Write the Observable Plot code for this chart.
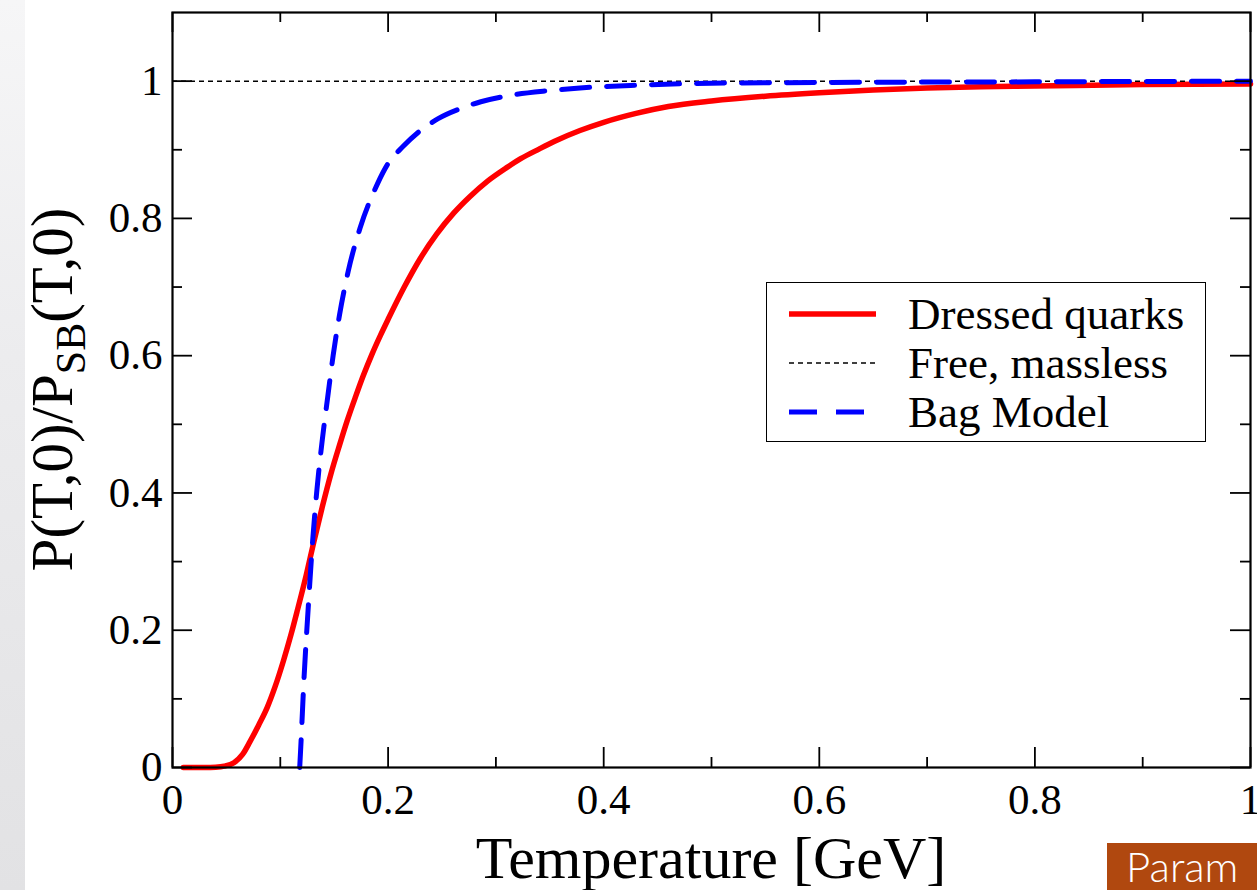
<!DOCTYPE html>
<html>
<head>
<meta charset="utf-8">
<script src="https://cdn.jsdelivr.net/npm/d3@7"></script>
<script src="https://cdn.jsdelivr.net/npm/@observablehq/plot@0.6"></script>
<style>
  html, body { margin: 0; padding: 0; background: #fff; overflow: hidden; }
  #wrap { position: relative; width: 1257px; height: 890px; overflow: hidden; background: #fff; }
  #strip { position: absolute; left: 0; top: 0; width: 25px; height: 890px;
           background: linear-gradient(to bottom, #f6f6f7 0%, #ececee 40%, #e2e2e4 100%); }
  #chart { position: absolute; left: 0; top: 0; }
  #legend { position: absolute; left: 766px; top: 282px; width: 440px; height: 160px;
            border: 1.5px solid #000; background: #fff; box-sizing: border-box;
            font-family: "Liberation Serif", "Times New Roman", serif; font-size: 45px; color: #000; }
  .item { position: absolute; left: 0; height: 50px; width: 100%; }
  .item svg { position: absolute; left: 22px; top: 0; }
  .item span { position: absolute; left: 141px; top: 0; line-height: 50px; white-space: nowrap; }
  #badge { position: absolute; left: 1107px; top: 843px; width: 150px; height: 47px;
           background: #b0480f; color: #fff; font-family: Lato, "Open Sans", sans-serif; font-weight: 300;
           font-size: 42px; line-height: 47px; padding-left: 19px; box-sizing: border-box; white-space: nowrap; overflow: hidden; }
</style>
</head>
<body>
<div id="wrap">
  <div id="strip"></div>
  <div id="chart"></div>
  <div id="legend"></div>
  <div id="badge">Param</div>
</div>
<script>
// ---- data ----
const tempDressed = [0.010,0.020,0.030,0.040,0.048,0.057,0.065,0.072,0.080,0.088,0.095,0.103,0.110,0.116,0.124,0.131,0.139,0.147,0.155,0.162,0.170,0.177,0.185,0.193,0.200,0.215,0.230,0.245,0.261,0.276,0.292,0.310,0.323,0.340,0.354,0.378,0.400,0.430,0.460,0.500,0.550,0.600,0.650,0.700,0.750,0.800,0.900,1.000];
const valDressed  = [0,0,0,0.0005,0.002,0.007,0.019,0.038,0.062,0.088,0.117,0.156,0.194,0.230,0.280,0.328,0.380,0.428,0.470,0.505,0.541,0.571,0.602,0.630,0.653,0.700,0.742,0.777,0.808,0.832,0.854,0.874,0.887,0.901,0.912,0.928,0.940,0.953,0.963,0.971,0.978,0.983,0.987,0.990,0.992,0.993,0.995,0.996];
const tempBag = [0.118,0.119,0.122,0.126,0.130,0.134,0.139,0.144,0.149,0.155,0.163,0.174,0.190,0.200,0.214,0.230,0.246,0.267,0.286,0.316,0.348,0.378,0.430,0.500,0.600,0.800,1.000];
const valBag  = [0,0.03,0.13,0.235,0.33,0.405,0.478,0.54,0.60,0.66,0.723,0.786,0.850,0.880,0.905,0.928,0.945,0.960,0.970,0.980,0.986,0.990,0.994,0.997,0.998,0.999,1.000];
const freeLevel = [1];
const xMajor = [0,0.2,0.4,0.6,0.8,1];
const xMinor = [0.1,0.3,0.5,0.7,0.9];
const yMajor = [0,0.2,0.4,0.6,0.8,1];
const yMinor = [0.1,0.3,0.5,0.7,0.9];
const xTickLabels = ["0","0.2","0.4","0.6","0.8","1"];
const yTickLabels = ["0","0.2","0.4","0.6","0.8","1"];
const seriesNames = ["Dressed quarks","Free, massless","Bag Model"];
const xTitle = "Temperature [GeV]";

const dressed = tempDressed.map((t,i) => ({t, v: valDressed[i]}));
const bag = tempBag.map((t,i) => ({t, v: valBag[i]}));

const W = 1257, H = 890, mT = 12, mR = 7, mB = 123, mL = 172;
const innerW = W - mL - mR, innerH = H - mT - mB;
const major = 20, minor = 10;
const serif = '"Liberation Serif", "Times New Roman", serif';

const chart = Plot.plot({
  width: W, height: H,
  marginTop: mT, marginRight: mR, marginBottom: mB, marginLeft: mL,
  style: {fontFamily: serif, background: "transparent", overflow: "visible"},
  x: {domain: [0, 1]},
  y: {domain: [0, 1.1]},
  marks: [
    Plot.line(dressed, {x: "t", y: "v", stroke: "#ff0000", strokeWidth: 5.5, curve: "monotone-x"}),
    Plot.ruleY(freeLevel, {stroke: "#000", strokeWidth: 1.5, strokeDasharray: "5,4"}),
    Plot.line(bag, {x: "t", y: "v", stroke: "#0000ff", strokeWidth: 5, strokeDasharray: "28,17", curve: "monotone-x"}),
    // inward ticks on all four sides
    Plot.tickX(xMajor, {x: d => d, insetTop: innerH - major, strokeWidth: 1.8}),
    Plot.tickX(xMinor, {x: d => d, insetTop: innerH - minor, strokeWidth: 1.8}),
    Plot.tickX(xMajor, {x: d => d, insetBottom: innerH - major, strokeWidth: 1.8}),
    Plot.tickX(xMinor, {x: d => d, insetBottom: innerH - minor, strokeWidth: 1.8}),
    Plot.tickY(yMajor, {y: d => d, insetRight: innerW - major, strokeWidth: 1.8}),
    Plot.tickY(yMinor, {y: d => d, insetRight: innerW - minor, strokeWidth: 1.8}),
    Plot.tickY(yMajor, {y: d => d, insetLeft: innerW - major, strokeWidth: 1.8}),
    Plot.tickY(yMinor, {y: d => d, insetLeft: innerW - minor, strokeWidth: 1.8}),
    Plot.axisX({ticks: xMajor, tickSize: 0, tickPadding: 16, fontSize: 43, label: null,
                tickFormat: d => xTickLabels[xMajor.indexOf(d)]}),
    Plot.axisY({ticks: yMajor, tickSize: 0, tickPadding: 10, fontSize: 43, label: null,
                tickFormat: d => yTickLabels[yMajor.indexOf(d)]}),
    Plot.frame({stroke: "#000", strokeWidth: 2.2})
  ]
});
document.getElementById("chart").appendChild(chart);

// axis titles
const svg = d3.select(chart);
svg.append("text")
  .attr("x", mL + innerW / 2).attr("y", 878)
  .attr("text-anchor", "middle")
  .style("font-family", serif).style("font-size", "60px").attr("fill", "#000")
  .text(xTitle);

const yl = svg.append("text")
  .attr("transform", `translate(72, ${mT + innerH / 2}) rotate(-90)`)
  .attr("text-anchor", "middle")
  .style("font-family", serif).style("font-size", "59px").attr("fill", "#000");
yl.append("tspan").text("P(T,0)/P");
yl.append("tspan").attr("dy", 13).style("font-size", "42px").text("SB");
yl.append("tspan").attr("dy", -13).text("(T,0)");

// legend
const legend = document.getElementById("legend");
const swatches = [
  `<line x1="0" y1="25" x2="87" y2="25" stroke="#ff0000" stroke-width="5.5"/>`,
  `<line x1="0" y1="25" x2="87" y2="25" stroke="#000" stroke-width="1.5" stroke-dasharray="5,4"/>`,
  `<line x1="0" y1="25" x2="87" y2="25" stroke="#0000ff" stroke-width="5" stroke-dasharray="28,19"/>`
];
const tops = [6, 55, 104];
seriesNames.forEach((name, i) => {
  const div = document.createElement("div");
  div.className = "item";
  div.style.top = tops[i] + "px";
  div.innerHTML = `<svg width="90" height="50">${swatches[i]}</svg><span>${name}</span>`;
  legend.appendChild(div);
});
</script>
</body>
</html>
